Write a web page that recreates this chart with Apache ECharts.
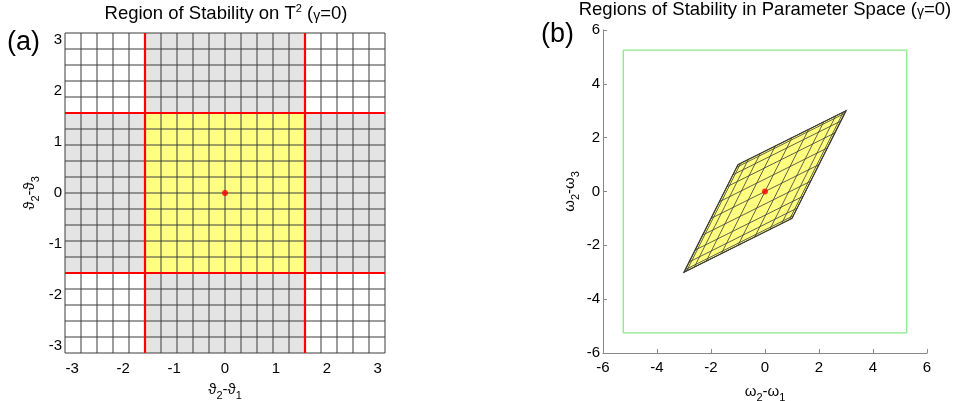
<!DOCTYPE html>
<html><head><meta charset="utf-8">
<script src="https://cdn.jsdelivr.net/npm/echarts@6/dist/echarts.min.js"></script>
<style>html,body{margin:0;padding:0;background:#fff}#c{width:957px;height:401px}</style>
</head><body><div id="c"></div>
<script>
// ---------- data ----------
const leftRange = [-3.1416, 3.1416];          // theta differences span [-pi, pi]
const leftTicks = [-3, -2, -1, 0, 1, 2, 3];
const leftGridStep = 0.31416;                 // mesh spacing (pi/10)
const stableBounds = [-1.5708, 1.5708];       // red boundaries (+-pi/2)
const equilibrium = [0, 0];
const rightRange = [-6, 6];
const rightTicks = [-6, -4, -2, 0, 2, 4, 6];
const frameHalf = 5.25;                        // green frame half-width
const rhombusCorners = [[-3, -3], [1, -1], [3, 3], [-1, 1]];
const meshLevels = [-1, -0.951, -0.809, -0.588, -0.309, 0, 0.309, 0.588, 0.809, 0.951, 1];

const FONT = 'Liberation Sans, Arial, sans-serif';
const GRAY = '#e4e4e4', YELLOW = '#ffff80', WHITE = '#ffffff';

// ---------- left panel pieces ----------
const L0 = leftRange[0], L1 = leftRange[1];
const b0 = stableBounds[0], b1 = stableBounds[1];
const fillColors = [WHITE, GRAY, YELLOW];
const leftFills = [
  [L0, L0, L1, L1, 0],
  [b0, L0, b1, L1, 1],
  [L0, b0, L1, b1, 1],
  [b0, b0, b1, b1, 2]
];
const gridPos = [];
for (let k = -10; k <= 10; k++) gridPos.push(Math.max(L0, Math.min(L1, k * leftGridStep)));
const leftGridLines = [];
gridPos.forEach(p => { leftGridLines.push([p, L0, p, L1]); leftGridLines.push([L0, p, L1, p]); });
const redLines = [];
stableBounds.forEach(p => { redLines.push([p, L0, p, L1]); redLines.push([L0, p, L1, p]); });

// ---------- right panel pieces ----------
const c0 = rhombusCorners[0];
const e1 = [(rhombusCorners[1][0] - c0[0]) / 2, (rhombusCorners[1][1] - c0[1]) / 2];
const e2 = [(rhombusCorners[3][0] - c0[0]) / 2, (rhombusCorners[3][1] - c0[1]) / 2];
function P(a, b) { return [c0[0] + (a + 1) * e1[0] + (b + 1) * e2[0], c0[1] + (a + 1) * e1[1] + (b + 1) * e2[1]]; }
const meshLines = [];
meshLevels.forEach(s => {
  const p = P(s, -1), q = P(s, 1); meshLines.push([p[0], p[1], q[0], q[1]]);
  const r = P(-1, s), t = P(1, s); meshLines.push([r[0], r[1], t[0], t[1]]);
});
const frameLines = [
  [-frameHalf, -frameHalf, frameHalf, -frameHalf],
  [frameHalf, -frameHalf, frameHalf, frameHalf],
  [frameHalf, frameHalf, -frameHalf, frameHalf],
  [-frameHalf, frameHalf, -frameHalf, -frameHalf]
];

function lineRenderer(color, width) {
  return function (params, api) {
    const p = api.coord([api.value(0), api.value(1)]);
    const q = api.coord([api.value(2), api.value(3)]);
    return { type: 'line', shape: { x1: p[0], y1: p[1], x2: q[0], y2: q[1] },
             style: { stroke: color, lineWidth: width } };
  };
}

const sub = { fontSize: 11, fontFamily: FONT, color: '#000', verticalAlign: 'bottom', lineHeight: 12 };
const base = { fontSize: 15, fontFamily: FONT, color: '#000', lineHeight: 22 };
const labelStyle = { fontSize: 15, fontFamily: FONT, color: '#000' };
const titleRich = {
  n: { fontSize: 18.5, fontFamily: FONT, lineHeight: 20, verticalAlign: 'bottom' },
  sup: { fontSize: 11, fontFamily: FONT, lineHeight: 13, verticalAlign: 'top' },
  g: { fontSize: 14, fontFamily: FONT, lineHeight: 16, verticalAlign: 'bottom' }
};

const chart = echarts.init(document.getElementById('c'), null, { renderer: 'canvas' });
chart.setOption({
  animation: false,
  backgroundColor: '#fff',
  grid: [
    { left: 65, top: 33, width: 320, height: 320, show: false, containLabel: false, outerBoundsMode: 'none' },
    { left: 603, top: 30, width: 324, height: 323, show: false, containLabel: false, outerBoundsMode: 'none' }
  ],
  xAxis: [
    { gridIndex: 0, type: 'value', min: L0, max: L1,
      axisLine: { show: false },
      axisTick: { show: true, inside: true, length: 3, customValues: leftTicks, lineStyle: { color: '#777' } },
      axisLabel: Object.assign({ customValues: leftTicks, margin: 8 }, labelStyle),
      splitLine: { show: false },
      name: '{m|ϑ}{s|2}{m|-ϑ}{s|1}', nameLocation: 'middle', nameGap: 26,
      nameTextStyle: { rich: { m: base, s: sub } } },
    { gridIndex: 1, type: 'value', min: rightRange[0], max: rightRange[1], interval: 2,
      axisLine: { show: true, onZero: false, lineStyle: { color: '#888', width: 1 } },
      axisTick: { show: true, inside: true, length: 4, lineStyle: { color: '#888' } },
      axisLabel: Object.assign({ margin: 7 }, labelStyle),
      splitLine: { show: false },
      name: '{m|ω}{s|2}{m|-ω}{s|1}', nameLocation: 'middle', nameGap: 28,
      nameTextStyle: { rich: { m: base, s: sub } } }
  ],
  yAxis: [
    { gridIndex: 0, type: 'value', min: L0, max: L1,
      axisLine: { show: false },
      axisTick: { show: true, inside: true, length: 3, customValues: leftTicks, lineStyle: { color: '#777' } },
      axisLabel: Object.assign({ customValues: leftTicks, margin: 3 }, labelStyle),
      splitLine: { show: false },
      name: '{m|ϑ}{s|2}{m|-ϑ}{s|3}', nameLocation: 'middle', nameGap: 24, nameRotate: 90,
      nameTextStyle: { rich: { m: base, s: sub } } },
    { gridIndex: 1, type: 'value', min: rightRange[0], max: rightRange[1], interval: 2,
      axisLine: { show: true, onZero: false, lineStyle: { color: '#888', width: 1 } },
      axisTick: { show: true, inside: true, length: 4, lineStyle: { color: '#888' } },
      axisLabel: Object.assign({ margin: 3 }, labelStyle),
      splitLine: { show: false },
      name: '{m|ω}{s|2}{m|-ω}{s|3}', nameLocation: 'middle', nameGap: 22, nameRotate: 90,
      nameTextStyle: { rich: { m: base, s: sub } } }
  ],
  graphic: [
    { type: 'text', x: 226, y: 3, style: { text: '{n|Region of Stability on T}{sup|2}{n| (}{g|γ}{n|=0)}', align: 'center', verticalAlign: 'top',
      fill: '#000', font: '18.5px ' + FONT, rich: titleRich } },
    { type: 'text', x: 765, y: -1, style: { text: '{n|Regions of Stability in Parameter Space (}{g|γ}{n|=0)}', align: 'center', verticalAlign: 'top',
      fill: '#000', font: '18.5px ' + FONT, rich: titleRich } },
    { type: 'text', x: 7, y: 29, style: { text: '(a)', fill: '#000', font: '27px ' + FONT } },
    { type: 'text', x: 541, y: 21, style: { text: '(b)', fill: '#000', font: '27px ' + FONT } }
  ],
  series: [
    { type: 'custom', xAxisIndex: 0, yAxisIndex: 0, silent: true, z: 1, data: leftFills,
      renderItem: function (params, api) {
        const p = api.coord([api.value(0), api.value(3)]);
        const q = api.coord([api.value(2), api.value(1)]);
        return { type: 'rect', shape: { x: p[0], y: p[1], width: q[0] - p[0], height: q[1] - p[1] },
                 style: { fill: fillColors[api.value(4)] } };
      } },
    { type: 'custom', xAxisIndex: 0, yAxisIndex: 0, silent: true, z: 2, data: leftGridLines,
      renderItem: lineRenderer('#3c3c3c', 1) },
    { type: 'custom', xAxisIndex: 0, yAxisIndex: 0, silent: true, z: 3, data: redLines,
      renderItem: lineRenderer('#ff0000', 2.2) },
    { type: 'scatter', xAxisIndex: 0, yAxisIndex: 0, silent: true, z: 4, data: [equilibrium],
      symbolSize: 6, itemStyle: { color: '#ff0000' } },

    { type: 'custom', xAxisIndex: 1, yAxisIndex: 1, silent: true, z: 1, data: frameLines,
      renderItem: lineRenderer('#88e888', 1.3) },
    { type: 'custom', xAxisIndex: 1, yAxisIndex: 1, silent: true, z: 2, data: [0],
      renderItem: function (params, api) {
        const pts = rhombusCorners.map(c => api.coord(c));
        return { type: 'polygon', shape: { points: pts }, style: { fill: '#ffff80', stroke: '#333', lineWidth: 1.2 } };
      } },
    { type: 'custom', xAxisIndex: 1, yAxisIndex: 1, silent: true, z: 3, data: meshLines,
      renderItem: lineRenderer('#3a3a3a', 0.8) },
    { type: 'scatter', xAxisIndex: 1, yAxisIndex: 1, silent: true, z: 4, data: [equilibrium],
      symbolSize: 6, itemStyle: { color: '#ff0000' } }
  ]
});
</script>
</body></html>
